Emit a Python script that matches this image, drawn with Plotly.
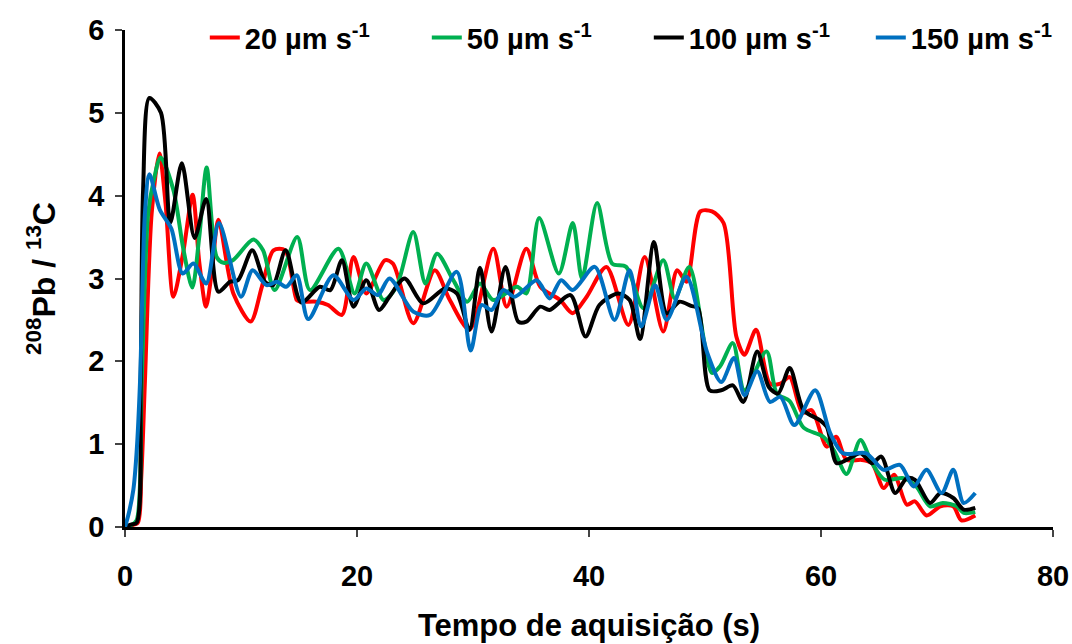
import plotly.graph_objects as go

# 20 µm/s (red)
t_20 = [0, 0.5, 1.1, 1.4, 1.72, 2.3, 2.96, 3.5, 4.17, 5.0, 5.83, 6.4, 6.98, 7.5, 8.05, 9.34, 10.83, 11.8, 12.8, 13.8, 14.8, 15.1,
        16.5, 17.5, 18.7, 19.7, 20.8, 22.4, 23.1, 24.85, 26.7, 28.0, 29.7, 31.75, 32.9, 34.6, 35.8, 37.5, 38.6, 39.8, 41.5,
        43.4, 44.8, 46.4, 47.6, 48.4, 49.6, 50.6, 51.6, 52.7, 53.4, 54.4, 55.6, 56.5, 57.3, 58.4, 59.2, 60.5, 61.3, 62.2,
        63.5, 64.4, 65.4, 66.3, 67.4, 68.1, 69.1, 70.3, 71.4, 72.1, 73.3]
v_20 = [0, 0.02, 0.05, 0.6, 1.77, 3.79, 4.51, 3.9, 2.78, 3.3, 4.01, 3.2, 2.66, 3.1, 3.71, 2.82, 2.48, 2.9, 3.34, 3.34, 2.74, 2.72,
        2.72, 2.68, 2.56, 3.26, 2.82, 3.22, 3.18, 2.46, 3.1, 2.74, 2.38, 3.36, 2.66, 3.36, 2.9, 2.74, 2.58, 2.78, 3.14,
        2.44, 3.26, 2.36, 3.1, 2.96, 3.81, 3.81, 3.67, 2.3, 2.08, 2.38, 1.73, 1.73, 1.81, 1.38, 1.41, 0.97, 1.09, 0.81,
        0.81, 0.77, 0.47, 0.63, 0.27, 0.31, 0.14, 0.25, 0.25, 0.08, 0.14]

# 50 µm/s (green)
t_50 = [0, 0.5, 1.0, 1.44, 2.0, 2.5, 3.07, 4.17, 5.0, 5.8, 6.4, 7.04, 7.9, 8.5, 9.3, 11.06, 11.9, 12.9, 14.85, 15.95, 18.4,
        19.8, 20.8, 22.3, 23.4, 24.85, 25.9, 26.9, 28.3, 29.5, 30.6, 31.75, 33.8, 34.6, 35.7, 37.4, 38.6, 39.4, 40.7, 42.0,
        43.2, 44.7, 46.4, 47.4, 48.65, 50.6, 51.3, 52.4, 53.4, 55.3, 56.2, 57.3, 58.5, 60.2, 61.1, 62.2, 63.4, 64.4, 65.5,
        67.1, 68.2, 69.4, 70.5, 71.7, 72.3, 73.3]
v_50 = [0, 0.02, 0.08, 1.77, 3.79, 4.2, 4.46, 4.07, 3.38, 2.89, 3.5, 4.34, 3.26, 3.19, 3.22, 3.47, 3.34, 2.86, 3.5, 2.86, 3.36,
        2.82, 3.18, 2.74, 2.9, 3.56, 2.94, 3.3, 2.98, 2.72, 2.94, 2.74, 2.9, 2.82, 3.73, 3.06, 3.67, 3.0, 3.91, 3.18,
        3.14, 2.64, 3.22, 2.76, 3.14, 1.86, 1.94, 2.22, 1.65, 2.12, 1.61, 1.52, 1.2, 1.09, 0.93, 0.64, 1.05, 0.77, 0.57,
        0.59, 0.49, 0.25, 0.29, 0.25, 0.17, 0.18]

# 100 µm/s (black)
t_100 = [0, 0.5, 1.0, 1.35, 1.56, 2.1, 3.1, 3.9, 4.9, 6.0, 7.0, 8.05, 9.05, 9.75, 10.97, 12.07, 12.76, 13.85, 15.2, 16.8,
         17.7, 18.7, 19.7, 20.8, 21.9, 22.8, 24.1, 25.7, 27.6, 28.6, 29.7, 30.6, 31.6, 32.8, 33.9, 34.6, 35.8, 36.6, 38.4,
         39.7, 40.9, 42.5, 43.5, 44.4, 45.6, 46.7, 47.8, 48.8, 49.4, 50.4, 51.4, 52.4, 53.3, 54.5, 55.5, 56.3, 57.3, 58.5,
         59.9, 60.5, 61.35, 62.2, 63.4, 64.4, 65.2, 66.4, 67.4, 68.1, 69.4, 70.3, 71.4, 72.3, 73.3]
v_100 = [0, 0.03, 0.05, 1.77, 4.07, 5.18, 5.0, 3.67, 4.39, 3.49, 3.96, 2.84, 2.96, 2.98, 3.34, 2.96, 2.92, 3.34, 2.71, 2.9,
         2.86, 3.22, 2.66, 2.98, 2.62, 2.78, 3.0, 2.7, 2.88, 2.82, 2.38, 3.13, 2.36, 3.14, 2.48, 2.48, 2.66, 2.62, 2.8,
         2.3, 2.68, 2.82, 2.74, 2.27, 3.44, 2.58, 2.72, 2.67, 2.64, 1.65, 1.65, 1.71, 1.51, 2.12, 1.69, 1.61, 1.92, 1.41,
         1.29, 1.21, 0.77, 0.81, 0.89, 0.77, 0.85, 0.41, 0.59, 0.57, 0.29, 0.41, 0.35, 0.21, 0.23]

# 150 µm/s (blue)
t_150 = [0, 0.3, 0.72, 1.0, 1.3, 1.72, 2.1, 3.0, 4.0, 4.97, 5.9, 7.0, 8.1, 10.0, 11.0, 12.2, 13.1, 13.9, 14.8, 15.8, 17.96,
         19.7, 20.8, 21.8, 22.8, 24.85, 26.3, 28.6, 29.8, 30.75, 31.6, 32.6, 33.6, 35.5, 36.6, 37.6, 38.6, 40.5, 42.2,
         43.5, 44.5, 45.7, 46.7, 48.4, 50.2, 51.4, 52.5, 53.4, 54.5, 55.6, 56.5, 57.7, 59.5, 60.8, 61.9, 63.9, 65.4, 66.8,
         68.0, 69.1, 70.4, 71.4, 72.3, 73.3]
v_150 = [0, 0.15, 0.45, 0.9, 1.77, 3.79, 4.26, 3.83, 3.6, 3.06, 3.18, 2.94, 3.67, 2.78, 3.1, 2.92, 2.96, 2.9, 3.04, 2.51, 3.04,
         2.74, 2.88, 2.8, 3.0, 2.6, 2.56, 3.08, 2.13, 2.68, 2.62, 2.86, 2.78, 2.98, 2.76, 2.98, 2.86, 3.14, 2.5,
         3.1, 2.42, 2.92, 2.5, 3.02, 2.1, 1.75, 2.04, 1.59, 1.88, 1.51, 1.57, 1.23, 1.65, 1.13, 0.89, 0.89, 0.69, 0.75,
         0.49, 0.69, 0.41, 0.69, 0.29, 0.41]

series = [
    ("20 µm s<sup>-1</sup>", t_20, v_20, "#FF0000"),
    ("50 µm s<sup>-1</sup>", t_50, v_50, "#00B050"),
    ("100 µm s<sup>-1</sup>", t_100, v_100, "#000000"),
    ("150 µm s<sup>-1</sup>", t_150, v_150, "#0070C0"),
]

x_ticks = [0, 20, 40, 60, 80]
y_ticks = [0, 1, 2, 3, 4, 5, 6]

fig = go.Figure()
for name, t, v, c in series:
    fig.add_trace(go.Scatter(x=t, y=v, name=name, mode="lines",
                             line=dict(color=c, width=4, shape="spline", smoothing=0.8)))

font_family = "Liberation Sans, Arial, sans-serif"
fig.update_layout(
    width=1072, height=644,
    margin=dict(l=125, r=19, t=30, b=117, autoexpand=False),
    paper_bgcolor="white", plot_bgcolor="white",
    font=dict(family=font_family, size=28, color="black", weight="bold"),
    legend=dict(orientation="h", x=0.086, xanchor="left", y=1.036, yanchor="top",
                font=dict(size=29, weight="bold"), bgcolor="rgba(0,0,0,0)",
                entrywidth=177, entrywidthmode="pixels"),
    showlegend=True,
)
fig.update_xaxes(range=[0, 80], tickvals=x_ticks, ticks="outside", ticklen=7, tickwidth=2,
                 showline=True, linecolor="black", linewidth=2.5, showgrid=False, zeroline=False,
                 tickfont=dict(size=29, weight="bold"), ticklabelstandoff=14,
                 title=dict(text="Tempo de aquisição (s)", font=dict(size=31, weight="bold"), standoff=24))
fig.update_yaxes(range=[0, 6], tickvals=y_ticks, ticks="outside", ticklen=7, tickwidth=2,
                 showline=True, linecolor="black", linewidth=2.5, showgrid=False, zeroline=False,
                 tickfont=dict(size=29, weight="bold"), ticklabelstandoff=5,
                 title=dict(text="<sup>208</sup>Pb / <sup>13</sup>C", font=dict(size=32, weight="bold"), standoff=24))

fig.write_html("out.html")
